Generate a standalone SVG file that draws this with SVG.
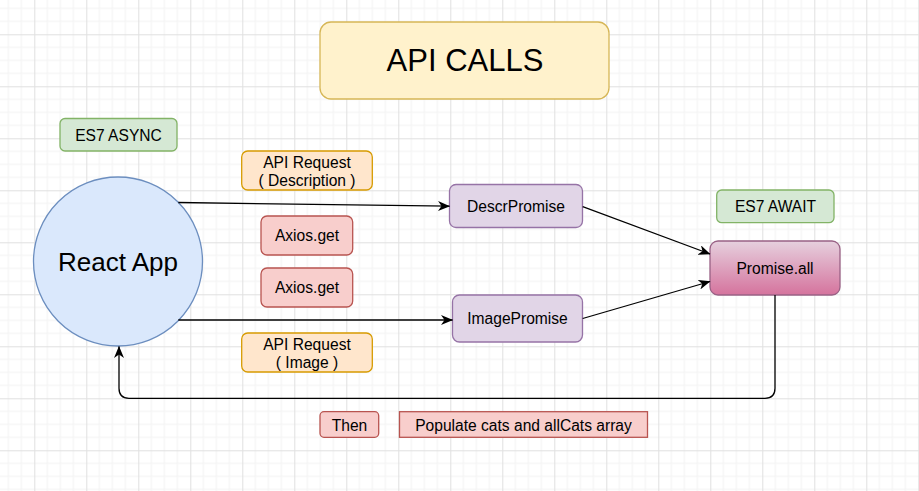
<svg xmlns="http://www.w3.org/2000/svg" width="919" height="491" viewBox="0 0 919 491">
<defs>
<pattern id="grid" patternUnits="userSpaceOnUse" x="34.3" y="34.3" width="52" height="52">
<path d="M13 0V52M26 0V52M39 0V52M0 13H52M0 26H52M0 39H52" stroke="#f2f2f2" stroke-width="1" fill="none"/>
<path d="M0.5 0V52M0 0.5H52" stroke="#e0e0e0" stroke-width="1" fill="none"/>
</pattern>
<linearGradient id="pink" x1="0" y1="0" x2="0" y2="1">
<stop offset="0" stop-color="#e6d0de"/>
<stop offset="1" stop-color="#d5739d"/>
</linearGradient>
<marker id="arr" viewBox="0 0 12 10" refX="11.5" refY="5" markerWidth="12" markerHeight="10" markerUnits="userSpaceOnUse" orient="auto">
<path d="M0,0 L12,5 L0,10 L3.5,5 z" fill="#000"/>
</marker>
<style>
text{font-family:"Liberation Sans",Arial,sans-serif;fill:#000;text-anchor:middle}
.s{font-size:15.6px}
.yellow{fill:#fff2cc;stroke:#d6b656;stroke-width:1.3}
.green{fill:#d5e8d4;stroke:#82b366;stroke-width:1.3}
.orange{fill:#ffe6cc;stroke:#d79b00;stroke-width:1.3}
.red{fill:#f8cecc;stroke:#b85450;stroke-width:1.3}
.purple{fill:#e1d5e7;stroke:#9673a6;stroke-width:1.3}
.blue{fill:#dae8fc;stroke:#6c8ebf;stroke-width:1.3}
.edge{fill:none;stroke:#000;stroke-width:1.3;marker-end:url(#arr)}
</style>
</defs>
<rect width="919" height="491" fill="#ffffff"/>
<rect width="919" height="491" fill="url(#grid)"/>

<g id="title">
<rect class="yellow" x="320" y="22" width="289" height="77" rx="11"/>
<text x="465" y="71" style="font-size:31px">API CALLS</text>
</g>
<g id="es7-async">
<rect class="green" x="60" y="118.5" width="117" height="32.5" rx="5"/>
<text class="s" x="118.5" y="140.5">ES7 ASYNC</text>
</g>
<g id="react-app">
<circle class="blue" cx="118" cy="261.5" r="84.5"/>
<text x="118" y="271" style="font-size:26px">React App</text>
</g>
<g id="api-request-description">
<rect class="orange" x="241.7" y="151" width="130.6" height="39" rx="6"/>
<text class="s" x="307" y="168">API Request</text>
<text class="s" x="307" y="186">( Description )</text>
</g>
<g id="axios-get-1">
<rect class="red" x="261" y="216" width="91.7" height="39" rx="6"/>
<text class="s" x="307" y="241">Axios.get</text>
</g>
<g id="axios-get-2">
<rect class="red" x="261" y="268" width="91.7" height="39" rx="6"/>
<text class="s" x="307" y="293">Axios.get</text>
</g>
<g id="api-request-image">
<rect class="orange" x="241.7" y="333" width="130.6" height="39" rx="6"/>
<text class="s" x="307" y="350">API Request</text>
<text class="s" x="307" y="368">( Image )</text>
</g>
<g id="descr-promise">
<rect class="purple" x="449.5" y="184.5" width="133" height="43" rx="6.5"/>
<text class="s" x="516" y="211.5">DescrPromise</text>
</g>
<g id="image-promise">
<rect class="purple" x="452.5" y="295" width="130" height="47" rx="7"/>
<text class="s" x="517.5" y="324">ImagePromise</text>
</g>
<g id="es7-await">
<rect class="green" x="716.7" y="190" width="117.3" height="32.7" rx="5"/>
<text class="s" x="775.5" y="212">ES7 AWAIT</text>
</g>
<g id="promise-all">
<rect x="710" y="241" width="130" height="54" rx="8" fill="url(#pink)" stroke="#996185" stroke-width="1.3"/>
<text class="s" x="775" y="273.5">Promise.all</text>
</g>
<g id="then">
<rect class="red" x="320" y="411.7" width="58.7" height="25.6" rx="4"/>
<text class="s" x="349.5" y="430.5">Then</text>
</g>
<g id="populate">
<rect class="red" x="399.5" y="411.7" width="248" height="25.6"/>
<text class="s" x="523.5" y="430.5">Populate cats and allCats array</text>
</g>

<g id="connectors">
<path class="edge" d="M178.3 202.5 L449.5 206.2"/>
<path class="edge" d="M178.3 320 L452.5 320"/>
<path class="edge" d="M582.7 206.7 L710 254"/>
<path class="edge" d="M582.7 318.5 L710 281.5"/>
<path class="edge" d="M775 295 V388.3 Q775 398.3 765 398.3 H129 Q119 398.3 119 388.3 V346.5"/>
</g>
</svg>
